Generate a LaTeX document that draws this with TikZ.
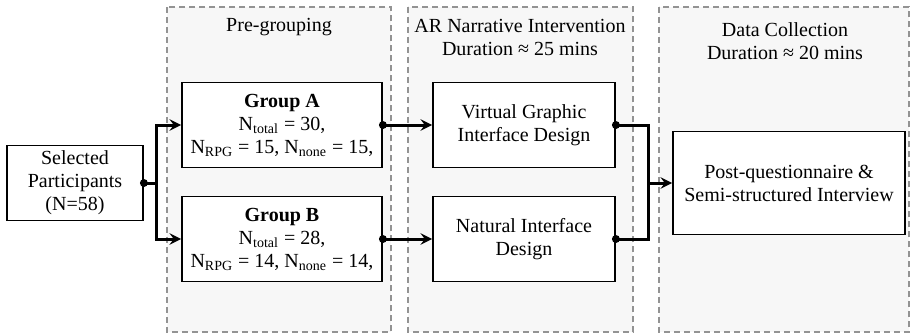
\documentclass[tikz,border=0pt]{standalone}
\usepackage{fontspec}
\setmainfont{Liberation Serif}
\usepackage{tikz}
\usetikzlibrary{arrows}
\tikzset{
  panel/.style={draw=gray!85, fill=gray!6, line width=1pt, dash pattern=on 3pt off 2pt},
  box/.style={draw, fill=white, line width=0.9pt, align=center, inner sep=1pt},
  link/.style={line width=1.5pt},
  dot/.style={fill, radius=2pt}
}

\begin{document}
\begin{tikzpicture}[x=0.5pt, y=-0.5pt, font=\fontsize{10}{11.5}\selectfont]
            \useasboundingbox (0,0) rectangle (911,334);

            % stage panels
            \draw[panel] (167,7) rectangle (391,332);
            \draw[panel] (408,7) rectangle (633,332);
            \draw[panel] (659,7) rectangle (909,332);

            \node (t1) at (279,27) {Pre-grouping};
            \node[align=center] (t2) at (520,37) {AR Narrative Intervention\\Duration ≈ 25 mins};
            \node[align=center] (t3) at (785,41) {Data Collection\\Duration ≈ 20 mins};

            % boxes
            \node[box, minimum width=68pt, minimum height=37.5pt] (sel) at (75,183) {Selected\\Participants\\(N=58)};
            \node[box, minimum width=100pt, minimum height=42.5pt] (ga) at (282,125)
                {\textbf{Group A}\\N\textsubscript{total} = 30,\\N\textsubscript{RPG} = 15, N\textsubscript{none} = 15,};
            \node[box, minimum width=100pt, minimum height=42.5pt] (gb) at (282,239)
                {\textbf{Group B}\\N\textsubscript{total} = 28,\\N\textsubscript{RPG} = 14, N\textsubscript{none} = 14,};
            \node[box, minimum width=91pt, minimum height=42.5pt] (vg) at (524,125) {Virtual Graphic\\Interface Design};
            \node[box, minimum width=91pt, minimum height=42.5pt] (ni) at (524,239) {Natural Interface\\Design};
            \node[box, minimum width=116pt, minimum height=51.5pt] (pq) at (789,183) {Post-questionnaire \&\\Semi-structured Interview};

            % connectors
            \coordinate (split) at (156,183);
            \coordinate (merge) at (648,183);
            \draw[link] (sel.east) -- (split);
            \draw[link, -stealth] (split) |- (ga.west);
            \draw[link, -stealth] (split) |- (gb.west);
            \draw[link, -stealth] (ga.east) -- (vg.west);
            \draw[link, -stealth] (gb.east) -- (ni.west);
            \draw[link] (vg.east) -| (merge);
            \draw[link] (ni.east) -| (merge);
            \draw[link, -stealth] (merge) -- (pq.west);
            \foreach \n in {sel, ga, gb, vg, ni}
                \fill[dot] (\n.east) circle;

        \end{tikzpicture}
\end{document}
